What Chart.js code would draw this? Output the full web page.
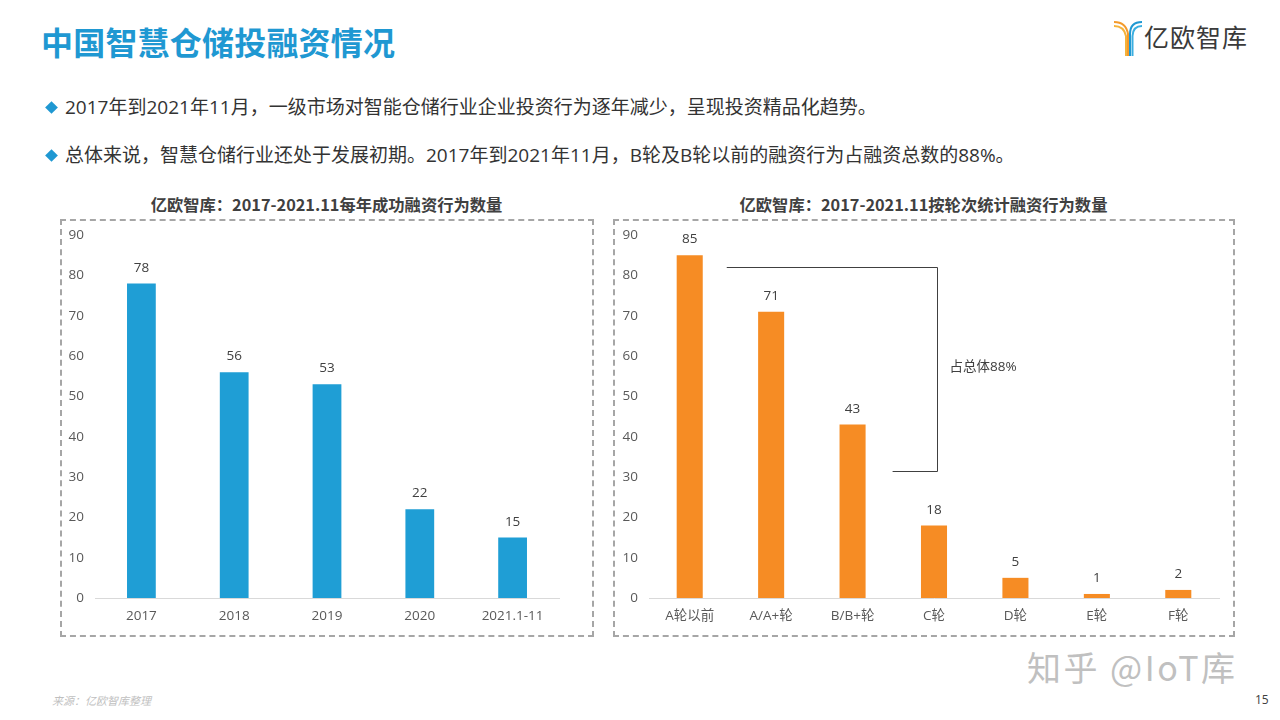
<!DOCTYPE html>
<html lang="zh">
<head>
<meta charset="utf-8">
<title>中国智慧仓储投融资情况</title>
<script src="https://cdn.jsdelivr.net/npm/chart.js@4.4.0/dist/chart.umd.min.js"></script>
<style>
  html, body { margin: 0; padding: 0; background: #fff; }
  body { width: 1280px; height: 720px; position: relative; overflow: hidden;
         font-family: "Open Sans", "Noto Sans CJK SC", sans-serif; color: #333; }
  .title { position: absolute; left: 41px; top: 18px; font-size: 32px; font-weight: 700;
           color: #1f98d2; font-family: "Noto Sans CJK SC", sans-serif; letter-spacing: 0.2px; }
  .bullet { position: absolute; left: 45px; font-size: 19px; color: #333; white-space: nowrap; }
  .bullet i { display: inline-block; width: 9px; height: 9px; background: #1f98d2;
              transform: rotate(45deg); margin: 0 9px 3px 2px; vertical-align: middle; }
  .ctitle { position: absolute; top: 192px; font-size: 16.3px; font-weight: 700; color: #404040;
            text-align: center; font-family: "Noto Sans CJK SC", sans-serif; }
  .box { position: absolute; border: 2px dashed #a6a6a6; box-sizing: border-box; }
  .chart { position: absolute; }
  .src { position: absolute; left: 52px; top: 692px; font-size: 11px; font-style: italic; color: #bfbfbf; }
  .page { position: absolute; left: 1255px; top: 691px; font-size: 12px; color: #404040; }
  .mark { position: absolute; left: 1027px; top: 642px; font-size: 34px; color: #c0c0c0;
          font-family: "Noto Sans CJK SC", sans-serif; letter-spacing: 2.5px; }
  .logo { position: absolute; left: 1112px; top: 18px; }
  .logo span { position: absolute; left: 32px; top: 0px; font-size: 25px; color: #3a3a3a;
               font-family: "Noto Sans CJK SC", sans-serif; white-space: nowrap; letter-spacing: 1px; }
</style>
</head>
<body>
<div class="title">中国智慧仓储投融资情况</div>

<div class="logo">
  <svg width="32" height="40" viewBox="0 0 32 40">
    <path d="M2 4 Q14 4 16 16 L16 38" stroke="#f39a2b" stroke-width="2" fill="none"/>
    <path d="M2 8 Q12 8 14 18 L14 38" stroke="#f5b33b" stroke-width="2" fill="none"/>
    <path d="M30 4 Q18 4 18 16 L18 38" stroke="#1f98d2" stroke-width="2" fill="none"/>
    <path d="M30 8 Q21 8 20.5 18 L20.5 38" stroke="#3aaee0" stroke-width="2" fill="none"/>
  </svg>
  <span>亿欧智库</span>
</div>

<div class="bullet" style="top:92px"><i></i>2017年到2021年11月，一级市场对智能仓储行业企业投资行为逐年减少，呈现投资精品化趋势。</div>
<div class="bullet" style="top:140px"><i></i>总体来说，智慧仓储行业还处于发展初期。2017年到2021年11月，B轮及B轮以前的融资行为占融资总数的88%。</div>

<div class="ctitle" style="left:60px;width:533px">亿欧智库：2017-2021.11每年成功融资行为数量</div>
<div class="ctitle" style="left:613px;width:621px">亿欧智库：2017-2021.11按轮次统计融资行为数量</div>

<div class="box" style="left:60px;top:219px;width:534px;height:418px"></div>
<div class="box" style="left:613px;top:219px;width:622px;height:418px"></div>

<div class="chart" style="left:62px;top:216px;width:530px;height:418px"><canvas id="yearChart"></canvas></div>
<div class="chart" style="left:615px;top:216px;width:617px;height:418px"><canvas id="roundChart"></canvas></div>

<div class="mark">知乎 @IoT库</div>
<div class="src">来源：亿欧智库整理</div>
<div class="page">15</div>

<script>
// Chart data
const yearLabels = ['2017', '2018', '2019', '2020', '2021.1-11'];
const yearCounts = [78, 56, 53, 22, 15];

const roundLabels = ['A轮以前', 'A/A+轮', 'B/B+轮', 'C轮', 'D轮', 'E轮', 'F轮'];
const roundCounts = [85, 71, 43, 18, 5, 1, 2];

const yTicks = [0, 10, 20, 30, 40, 50, 60, 70, 80, 90];

// bracket annotation on the right chart (value levels)
const bracketTop = 82;
const bracketBottom = 31.5;
const bracketText = '占总体88%';

const FONT = '"Open Sans", "Noto Sans CJK SC", sans-serif';

// draw the value above every bar
const valueLabels = {
    id: 'valueLabels',
    afterDatasetsDraw(chart) {
        const ctx = chart.ctx;
        const meta = chart.getDatasetMeta(0);
        const values = chart.data.datasets[0].data;
        ctx.save();
        ctx.font = '13.5px ' + FONT;
        ctx.fillStyle = '#404040';
        ctx.textAlign = 'center';
        ctx.textBaseline = 'bottom';
        meta.data.forEach((bar, i) => {
            ctx.fillText(values[i], bar.x, bar.y - 9);
        });
        ctx.restore();
    }
};

// the "占总体88%" bracket
const bracket = {
    id: 'bracket',
    afterDatasetsDraw(chart) {
        const ctx = chart.ctx;
        const xs = chart.scales.x, ys = chart.scales.y;
        const bars = chart.getDatasetMeta(0).data;
        const yTop = Math.round(ys.getPixelForValue(bracketTop)) + 0.5;
        const yBot = Math.round(ys.getPixelForValue(bracketBottom)) + 0.5;
        const xRight = Math.round(xs.getPixelForValue(3)) + 3.5;
        const xTopStart = bars[0].x + bars[0].width / 2 + 24;
        const xBotStart = bars[2].x + bars[2].width / 2 + 27;
        ctx.save();
        ctx.strokeStyle = '#404040';
        ctx.lineWidth = 1;
        ctx.beginPath();
        ctx.moveTo(xTopStart, yTop);
        ctx.lineTo(xRight, yTop);
        ctx.lineTo(xRight, yBot);
        ctx.lineTo(xBotStart, yBot);
        ctx.stroke();
        ctx.font = '13.5px ' + FONT;
        ctx.fillStyle = '#404040';
        ctx.textAlign = 'left';
        ctx.textBaseline = 'middle';
        ctx.fillText(bracketText, xRight + 12, (yTop + yBot) / 2 - 2);
        ctx.restore();
    }
};

function buildChart(id, labels, values, color, barPct, yWidth, padRight) {
    return new Chart(document.getElementById(id), {
        type: 'bar',
        data: {
            labels: labels,
            datasets: [{
                data: values,
                backgroundColor: color,
                categoryPercentage: 1,
                barPercentage: barPct
            }]
        },
        options: {
            responsive: true,
            maintainAspectRatio: false,
            animation: false,
            layout: { padding: { top: 6, right: padRight, left: 0, bottom: 0 } },
            plugins: {
                legend: { display: false },
                tooltip: { enabled: false }
            },
            scales: {
                x: {
                    grid: { display: false, drawTicks: false },
                    border: { display: true, color: '#d9d9d9', width: 1 },
                    ticks: { color: '#595959', font: { size: 13.5, family: FONT }, padding: 10 },
                    afterFit(scale) { scale.height = 36; }
                },
                y: {
                    min: 0,
                    max: 90,
                    grid: { display: false, drawTicks: false },
                    border: { display: false },
                    afterBuildTicks(scale) { scale.ticks = yTicks.map(v => ({ value: v })); },
                    ticks: { color: '#595959', font: { size: 13.5, family: FONT }, padding: 11 },
                    afterFit(scale) { scale.width = yWidth; }
                }
            }
        },
        plugins: id === 'roundChart' ? [valueLabels, bracket] : [valueLabels]
    });
}

buildChart('yearChart', yearLabels, yearCounts, '#1f9ed5', 0.31, 33, 33);
buildChart('roundChart', roundLabels, roundCounts, '#f68c24', 0.32, 34, 13);
</script>
</body>
</html>
